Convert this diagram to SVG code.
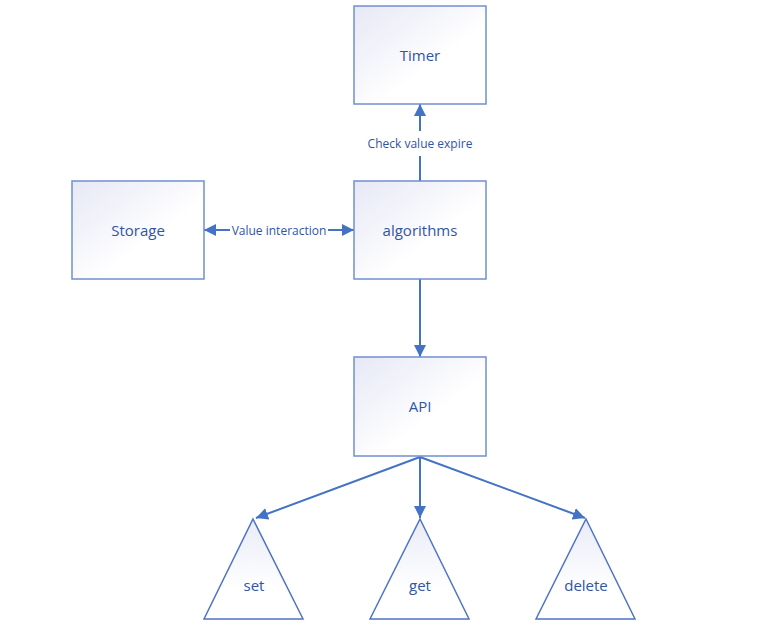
<svg xmlns="http://www.w3.org/2000/svg" width="778" height="635" viewBox="0 0 778 635">
<defs>
<linearGradient id="g" x1="0" y1="0" x2="1" y2="1">
<stop offset="0" stop-color="#E6E8F5"/>
<stop offset="0.6" stop-color="#FFFFFF"/>
</linearGradient>
<linearGradient id="gt" x1="0" y1="0" x2="0" y2="1">
<stop offset="0" stop-color="#E9ECF7"/>
<stop offset="0.7" stop-color="#FFFFFF"/>
</linearGradient>
<marker id="ah" viewBox="0 0 10 10" refX="10" refY="5" markerWidth="6" markerHeight="6" orient="auto-start-reverse" markerUnits="strokeWidth">
<path d="M0,0 L10,5 L0,10 z" fill="#4472C4"/>
</marker>
<style>
.box{fill:url(#g);stroke:#7090D0;stroke-width:1.5}
.tri{fill:url(#gt);stroke:#4F74C4;stroke-width:1.5}
.lbl{font-family:"Open Sans","Noto Sans","Liberation Sans",sans-serif;font-size:15px;fill:#2F55A4;text-anchor:middle;dominant-baseline:central}
.el{font-family:"Open Sans","Noto Sans","Liberation Sans",sans-serif;font-size:12px;fill:#2F55A4;text-anchor:middle;dominant-baseline:central}
.e{stroke:#4472C4;stroke-width:2;fill:none}
</style>
</defs>
<rect width="778" height="635" fill="#FFFFFF"/>
<g id="connectors">
<path class="e" d="M420,181 L420,156" />
<path class="e" d="M420,131 L420,104" marker-end="url(#ah)"/>
<rect x="363" y="134" width="114" height="20" fill="#FFFFFF"/>
<text class="el" x="420" y="143">Check value expire</text>
<path class="e" d="M204,230 L230,230" marker-start="url(#ah)"/>
<path class="e" d="M328,230 L354,230" marker-end="url(#ah)"/>
<text class="el" x="279" y="230">Value interaction</text>
<path class="e" d="M420,279 L420,357" marker-end="url(#ah)"/>
<path class="e" d="M420,457 L420,518" marker-end="url(#ah)"/>
<path class="e" d="M420,457 L256,518" marker-end="url(#ah)"/>
<path class="e" d="M420,457 L585,518" marker-end="url(#ah)"/>
</g>
<g id="timer">
<rect class="box" x="354" y="6" width="132" height="98"/>
<text class="lbl" x="420" y="55">Timer</text>
</g>
<g id="storage">
<rect class="box" x="72" y="181" width="132" height="98"/>
<text class="lbl" x="138" y="230">Storage</text>
</g>
<g id="algorithms">
<rect class="box" x="354" y="181" width="132" height="98"/>
<text class="lbl" x="420" y="230">algorithms</text>
</g>
<g id="api">
<rect class="box" x="354" y="357" width="132" height="99"/>
<text class="lbl" x="420" y="406">API</text>
</g>
<g id="set">
<path class="tri" d="M253,519 L303,619 L204,619 Z"/>
<text class="lbl" x="254" y="585">set</text>
</g>
<g id="get">
<path class="tri" d="M420,519 L469,619 L370,619 Z"/>
<text class="lbl" x="420" y="585">get</text>
</g>
<g id="delete">
<path class="tri" d="M586,519 L635,619 L536,619 Z"/>
<text class="lbl" x="586" y="585">delete</text>
</g>
</svg>
